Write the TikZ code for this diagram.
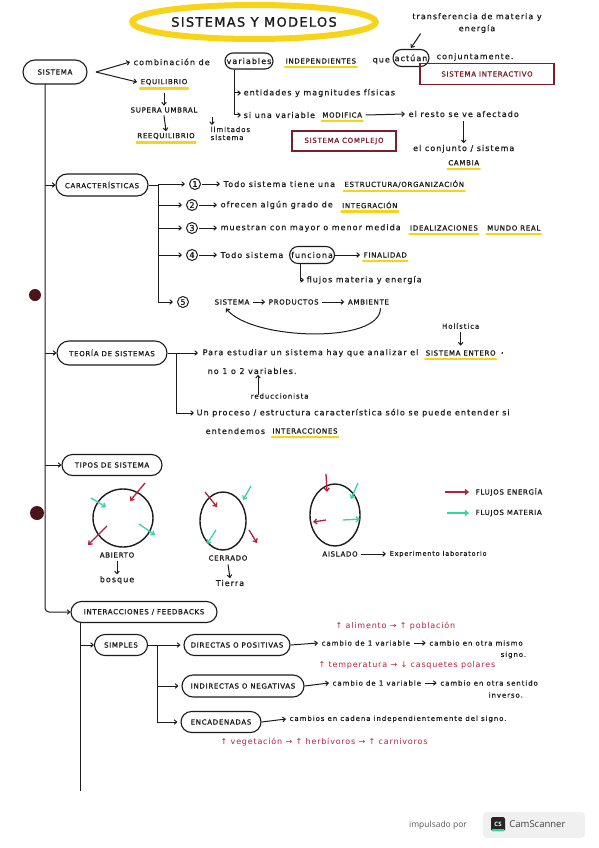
\documentclass[tikz,border=0pt]{standalone}
\usepackage{fontspec}
\setmainfont{DejaVu Sans}
\newfontfamily\handlow[LetterSpace=13,FakeBold=0.6]{DejaVu Sans}
\newfontfamily\handred[LetterSpace=10]{DejaVu Sans}
\newfontfamily\handcap[LetterSpace=10,FakeBold=1]{DejaVu Sans}
\newfontfamily\scanfont{Open Sans}
\usetikzlibrary{shapes.geometric,shapes.misc,arrows.meta,calc}
\newcommand\HW{\handlow\fontsize{8}{9}\selectfont}
\newcommand\HWs{\handlow\fontsize{7}{8}\selectfont}
\newcommand\HC{\handcap\fontsize{7}{8}\selectfont}
\definecolor{ink}{HTML}{1C1C1C}
\definecolor{hly}{HTML}{F7D417}
\definecolor{boxred}{HTML}{7B1F2E}
\definecolor{rtext}{HTML}{B3213F}
\definecolor{grn}{HTML}{33D6A0}
\definecolor{dotc}{HTML}{4A1418}
\tikzset{
 tx/.style={font=\HW, text=ink, inner sep=0.5pt, anchor=west},
 cx/.style={font=\HC, text=ink, inner sep=0.5pt, anchor=west},
 rx/.style={tx, font=\handred\fontsize{8}{9}\selectfont, text=rtext},
 oval/.style={draw=ink, rounded rectangle, line width=1.1pt, font=\HC, text=ink, inner sep=1pt},
 ovl/.style={oval, font=\HW},
 ln/.style={draw=ink, line width=1pt},
 ar/.style={ln, -{Straight Barb[length=2.6pt,width=4.6pt]}},
 hl/.style={draw=hly, line width=2.4pt, line cap=round},
 num/.style={circle, draw=ink, line width=1pt, inner sep=0pt, minimum size=11pt, font=\HW, text=ink},
 rbox/.style={draw=boxred, line width=1.2pt, font=\HC, text=boxred, inner sep=2pt},
 ra/.style={draw=rtext, line width=1.3pt, -{Straight Barb[length=3pt,width=5pt]}},
 ga/.style={draw=grn, line width=1.3pt, -{Straight Barb[length=3pt,width=5pt]}},
 sysc/.style={draw=ink, line width=1.4pt, ellipse, inner sep=0pt},
}
\newcommand\under[1]{\draw[hl] ([yshift=-2.6pt]#1.south west) -- ([yshift=-2.6pt]#1.south east);}
\begin{document}
\begin{tikzpicture}[x=1pt,y=-1pt]
\path[use as bounding box, fill=white] (0,0) rectangle (599,848);

% title
\node[draw=hly, line width=6pt, ellipse, minimum width=200pt, minimum height=34pt,
  font=\handcap\fontsize{13}{15}\selectfont, text=ink] (title) at (254,22) {SISTEMAS Y MODELOS};

% row 1
\node[oval, minimum width=66pt, minimum height=24pt] (sis) at (55,72) {SISTEMA};
\coordinate (fk) at (96,72);
\node[tx] (comb) at (133,62) {combinación de};
\node[ovl, minimum height=16pt] (var) at (249,61) {variables};
\node[cx] (indep) at (285,61) {INDEPENDIENTES};
\under{indep}
\node[tx] (que) at (372,61) {que};
\node[ovl, minimum height=17pt] (act) at (411,58) {actúan};
\node[tx] (conj) at (436,57) {conjuntamente.};
\node[cx, anchor=center] (eq) at (164,82) {EQUILIBRIO};
\under{eq}
\draw[ar] (fk) -- ([xshift=-3pt]comb.west);
\draw[ar] (fk) -- ([xshift=-3pt]eq.west);
\node[cx, anchor=center] (sup) at (164,110) {SUPERA UMBRAL};
\node[cx, anchor=center] (reeq) at (166,136) {REEQUILIBRIO};
\under{reeq}
\draw[ar] ([yshift=-7pt]eq.south) -- ([yshift=1pt]sup.north);
\draw[ar] ([yshift=-2pt]sup.south) -- ([yshift=1pt]reeq.north);
\node[tx, font=\HWs, align=left, anchor=north west] (lim) at (210,126) {limitados\\sistema};
\draw[ar] ([xshift=2pt,yshift=9pt]lim.north west) -- ([xshift=2pt,yshift=1pt]lim.north west);

\node[tx, anchor=center, align=center] (trans) at (477,23) {transferencia de materia y\\[3pt]energía};
\draw[ar] ([xshift=9pt]trans.south west) -- ([yshift=1pt]act.north);

\coordinate (vb) at ([xshift=-15pt]var.south);
\node[tx] (ent) at (243,93) {entidades y magnitudes físicas};
\node[tx] (si) at (243,115) {si una variable};
\node[cx] (mod) at ([xshift=6pt]si.east) {MODIFICA};
\under{mod}
\node[tx] (resto) at (408,114) {el resto se ve afectado};
\draw[ar] (vb) |- ([xshift=-2pt]ent.west);
\draw[ar] (vb) |- ([xshift=-2pt]si.west);
\draw[ar] ([xshift=3pt]mod.east) -- ([xshift=-3pt]resto.west);
\path (resto.south) ++(0,31) node[tx, anchor=center] (conjs) {el conjunto / sistema};
\node[cx, anchor=center] (camb) at ([yshift=-14pt]conjs.center) {CAMBIA};
\under{camb}
\draw[ar] ([yshift=-3pt]resto.south) -- ([yshift=1pt]conjs.north);

\node[rbox, minimum width=134pt, minimum height=21pt] (sint) at (487,74) {SISTEMA INTERACTIVO};
\node[rbox, minimum width=104pt, minimum height=20pt] (scomp) at (344,141) {SISTEMA COMPLEJO};

% main line and branches
\node[oval, minimum width=94pt, minimum height=22pt] (car) at (102,185) {CARACTERÍSTICAS};
\node[oval, minimum width=112pt, minimum height=24pt] (teo) at (112,353) {TEORÍA DE SISTEMAS};
\node[oval, minimum width=102pt, minimum height=21pt] (tip) at (112,465) {TIPOS DE SISTEMA};
\node[oval, minimum width=148pt, minimum height=21pt] (inter) at (144,612) {INTERACCIONES / FEEDBACKS};
\coordinate (m0) at (45,84);
\draw[ar, rounded corners=4pt] (m0) |- (inter.west);
\draw[ar] (m0 |- car.west) -- (car.west);
\draw[ar] (m0 |- teo.west) -- (teo.west);
\draw[ar] (m0 |- tip.west) -- (tip.west);

% caracteristicas
\coordinate (cb) at ([xshift=10pt]car.east);
\node[num] (n1) at (195,184) {1};
\node[num] (n2) at (192,205) {2};
\node[num] (n3) at (192,228) {3};
\node[num] (n4) at (192,255) {4};
\node[num] (n5) at (183,302) {5};
\draw[ln] (car.east) -- (cb) -- (cb |- n5.west);
\foreach \n in {n1,n2,n3,n4,n5} \draw[ar] (cb) |- ([xshift=-4pt]\n.west);

\node[tx] (t1) at ([xshift=22pt]n1.east) {Todo sistema tiene una};
\node[cx] (t1b) at ([xshift=8pt]t1.east) {ESTRUCTURA/ORGANIZACIÓN};
\under{t1b}
\node[tx] (t2) at ([xshift=22pt]n2.east) {ofrecen algún grado de};
\node[cx] (t2b) at ([xshift=8pt]t2.east) {INTEGRACIÓN};
\under{t2b}
\node[tx] (t3) at ([xshift=22pt]n3.east) {muestran con mayor o menor medida};
\node[cx] (t3b) at ([xshift=8pt]t3.east) {IDEALIZACIONES};
\node[cx] (t3c) at ([xshift=8pt]t3b.east) {MUNDO REAL};
\under{t3b}
\under{t3c}
\node[tx] (t4) at ([xshift=22pt]n4.east) {Todo sistema};
\node[ovl, minimum height=17pt, anchor=west] (fun) at ([xshift=5pt]t4.east) {funciona};
\node[cx] (fin) at ([xshift=28pt]fun.east) {FINALIDAD};
\under{fin}
\draw[ar] (fun.east) -- ([xshift=-3pt]fin.west);
\node[tx] (flu) at (306,280) {flujos materia y energía};
\draw[ar] ([xshift=-12pt]fun.south) |- ([xshift=-2pt]flu.west);
\foreach \a/\b in {n1/t1,n2/t2,n3/t3,n4/t4} \draw[ar] ([xshift=1pt]\a.east) -- ([xshift=-3pt]\b.west);

\node[cx] (s5) at ([xshift=25pt]n5.east) {SISTEMA};
\node[cx] (p5) at ([xshift=18pt]s5.east) {PRODUCTOS};
\node[cx] (a5) at ([xshift=28pt]p5.east) {AMBIENTE};
\draw[ar] ([xshift=3pt]s5.east) -- ([xshift=-3pt]p5.west);
\draw[ar] ([xshift=3pt]p5.east) -- ([xshift=-3pt]a5.west);
\draw[ar] ([xshift=12pt,yshift=-3pt]a5.south) .. controls +(0,36) and +(25,32) .. ([xshift=-6pt,yshift=-3pt]s5.south);

% teoria
\coordinate (tb) at ([xshift=9pt]teo.east);
\node[tx] (pa) at (202,353) {Para estudiar un sistema hay que analizar el};
\node[cx] (se) at ([xshift=6pt]pa.east) {SISTEMA ENTERO};
\under{se}
\node[tx] (comma) at ([xshift=4pt]se.east) {,};
\node[tx, font=\HWs, anchor=center] (hol) at (se.center |- 0,326) {Holística};
\draw[ar] ([yshift=-2pt]hol.south) -- ([yshift=4pt]se.north);
\node[tx] (no) at (207,371) {no 1 o 2 variables.};
\node[tx, font=\HWs] (redu) at (250,396) {reduccionista};
\draw[ar] ([xshift=8pt,yshift=-2pt]redu.north west) -- ([xshift=8pt]redu.north west |- no.south);
\node[tx] (un) at (196,413) {Un proceso / estructura característica sólo se puede entender si};
\node[tx] (ent2) at (205,431) {entendemos};
\node[cx] (intr) at ([xshift=6pt]ent2.east) {INTERACCIONES};
\under{intr}
\draw[ln] (teo.east) -- (tb) -- (tb |- un.west);
\draw[ar] (tb) -- ([xshift=-4pt]pa.west);
\draw[ar] (tb) |- ([xshift=-2pt]un.west);

% tipos
\node[sysc, minimum width=60pt, minimum height=58pt] (ab) at (123,518) {};
\node[sysc, minimum width=46pt, minimum height=58pt] (ce) at (223,521) {};
\node[sysc, minimum width=50pt, minimum height=62pt] (ai) at (335,515) {};
\draw[ra] (145,483) -- (130,501);
\draw[ga] (91,498) -- (106,507);
\draw[ra] (107,526) -- (88,545);
\draw[ga] (139,524) -- (155,535);
\draw[ra] (205,492) -- (217,507);
\draw[ga] (251,486) -- (243,500);
\draw[ga] (216,530) -- (207,544);
\draw[ra] (249,530) -- (257,543);
\draw[ra] (326,474) -- (327,492);
\draw[ga] (358,483) -- (351,499);
\draw[ra] (326,520) -- (313,522);
\draw[ga] (343,520) -- (360,519);
\node[cx, anchor=center] (abl) at (117,555) {ABIERTO};
\node[tx, anchor=center] (bos) at (117,580) {bosque};
\draw[ar] ([yshift=-3pt]abl.south) -- ([yshift=1pt]bos.north);
\node[cx, anchor=center] (cel) at (228,558) {CERRADO};
\node[tx, anchor=center] (tie) at (230,583) {Tierra};
\draw[ar] ([yshift=-3pt]cel.south) -- ([yshift=1pt]tie.north);
\node[cx, anchor=center] (ail) at (340,554) {AISLADO};
\node[tx, font=\handlow\fontsize{6.5}{8}\selectfont] (expl) at (389,554) {Experimento laboratorio};
\draw[ar] ([xshift=3pt]ail.east) -- ([xshift=-3pt]expl.west);
\node[cx] (fe) at (475,492) {FLUJOS ENERGÍA};
\node[cx] (fm) at (475,513) {FLUJOS MATERIA};
\draw[ra] ([xshift=-30pt]fe.west) -- ([xshift=-6pt]fe.west);
\draw[ga] ([xshift=-28pt]fm.west) -- ([xshift=-6pt]fm.west);

% dots
\fill[dotc] (35,295) circle (6);
\fill[dotc] (37,513) circle (7);

% interacciones
\coordinate (s0) at ([xshift=-64pt]inter.south);
\draw[ln] (s0) -- ++(0,168);
\node[oval, minimum width=55pt, minimum height=21pt] (simp) at (121,645) {SIMPLES};
\draw[ar] (s0 |- simp.west) -- (simp.west);
\coordinate (sb) at ([xshift=9pt]simp.east);
\node[oval, minimum width=108pt, minimum height=21pt] (dir) at (237,645) {DIRECTAS O POSITIVAS};
\node[oval, minimum width=124pt, minimum height=22pt] (ind) at (243,686) {INDIRECTAS O NEGATIVAS};
\node[oval, minimum width=82pt, minimum height=21pt] (enc) at (221,722) {ENCADENADAS};
\draw[ln] (simp.east) -- (sb) -- (sb |- enc.west);
\draw[ar] (sb) -- ([xshift=-3pt]dir.west);
\draw[ar] (sb) |- ([xshift=-3pt]ind.west);
\draw[ar] (sb) |- ([xshift=-3pt]enc.west);

\node[tx, font=\HWs] (d1) at (321,643) {cambio de 1 variable};
\node[tx, font=\HWs] (d2) at ([xshift=18pt]d1.east) {cambio en otra mismo};
\node[tx, font=\HWs] (d3) at (500,655) {signo.};
\draw[ar] (dir.east) -- ([xshift=-3pt]d1.west);
\draw[ar] ([xshift=3pt]d1.east) -- ([xshift=-3pt]d2.west);
\node[rx] (rd) at (335,626) {↑ alimento → ↑ población};

\node[tx, font=\HWs] (i1) at (332,683) {cambio de 1 variable};
\node[tx, font=\HWs] (i2) at ([xshift=18pt]i1.east) {cambio en otra sentido};
\node[tx, font=\HWs] (i3) at (488,695) {inverso.};
\draw[ar] (ind.east) -- ([xshift=-3pt]i1.west);
\draw[ar] ([xshift=3pt]i1.east) -- ([xshift=-3pt]i2.west);
\node[rx] (ri) at (318,665) {↑ temperatura → ↓ casquetes polares};

\node[tx, font=\HWs] (e1) at (289,719) {cambios en cadena independientemente del signo.};
\draw[ar] (enc.east) -- ([xshift=-3pt]e1.west);
\node[rx] (re) at (220,742) {↑ vegetación → ↑ herbívoros → ↑ carnívoros};

% scanner footer
\node[font=\scanfont\fontsize{8.5}{10}\selectfont, text=black!65] (imp) at (438,825) {impulsado por};
\node[fill=black!6, rounded corners=4pt, minimum width=102pt, minimum height=26pt] (badge) at (534,825) {};
\node[fill=black!85, rounded corners=1.5pt, minimum size=14pt, inner sep=0pt,
  font=\scanfont\bfseries\fontsize{6}{6}\selectfont, text=white] (logo) at (498,824) {CS};
\draw[grn, line width=1.6pt] ([yshift=1pt,xshift=1pt]logo.south west) -- ([yshift=1pt,xshift=-1pt]logo.south east);
\node[font=\scanfont\fontsize{9.5}{11}\selectfont, text=black!75, anchor=west, inner sep=0pt] (cs) at ([xshift=4pt]logo.east) {CamScanner};
\end{tikzpicture}
\end{document}
